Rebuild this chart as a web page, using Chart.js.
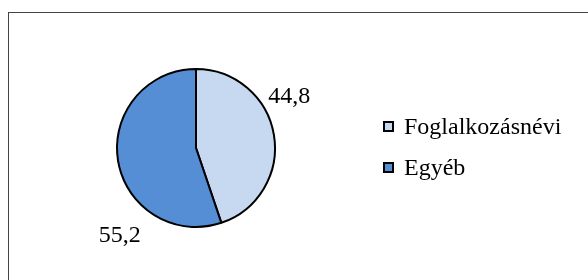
<!DOCTYPE html>
<html><head><meta charset="utf-8">
<script src="https://cdn.jsdelivr.net/npm/chart.js@4.4.1/dist/chart.umd.min.js"></script>
<style>
html,body{margin:0;padding:0;background:#fff;}
#wrap{position:relative;width:588px;height:280px;overflow:hidden;}
#frame{position:absolute;left:8px;top:12px;width:700px;height:400px;border-left:1.5px solid #444;border-top:1.5px solid #444;}
canvas{position:absolute;left:0;top:0;}
#legend{position:absolute;left:383px;top:106px;font-family:"Liberation Serif","Times New Roman",serif;font-size:24px;color:#000;}
.item{display:flex;align-items:center;height:41px;}
.box{width:7px;height:7px;border:2px solid #000;margin-right:10px;}
</style></head>
<body><div id="wrap"><div id="frame"></div><canvas id="c" width="588" height="280"></canvas><div id="legend"></div></div>
<script>
const categories = ["Foglalkozásnévi", "Egyéb"];
const values = [44.8, 55.2];
const valueLabels = ["44,8", "55,2"];
const colors = ["#C6D9F1", "#558ED5"];

const legend = document.getElementById('legend');
categories.forEach((c,i)=>{
  const d=document.createElement('div');d.className='item';
  d.innerHTML='<div class="box" style="background:'+colors[i]+'"></div><span>'+c+'</span>';
  legend.appendChild(d);
});

// label placement: angle (deg from top, clockwise) and distance factor relative to radius
const labelPlace = [{angle:61, dist:1.35},{angle:221, dist:1.47}];

const labelPlugin = {
  id:'pieLabels',
  afterDatasetsDraw(chart){
    const ctx=chart.ctx;
    const meta=chart.getDatasetMeta(0);
    ctx.save();
    ctx.font='24px "Liberation Serif", "Times New Roman", serif';
    ctx.fillStyle='#000';ctx.textAlign='center';ctx.textBaseline='middle';
    meta.data.forEach((arc,i)=>{
      const p=labelPlace[i];
      const a=(p.angle-90)*Math.PI/180;
      const r=arc.outerRadius*p.dist;
      ctx.fillText(valueLabels[i], arc.x+Math.cos(a)*r, arc.y+Math.sin(a)*r);
    });
    ctx.restore();
  }
};

new Chart(document.getElementById('c'),{
  type:'pie',
  data:{labels:categories,datasets:[{data:values,backgroundColor:colors,borderColor:'#000',borderWidth:2}]},
  options:{
    responsive:false,animation:false,
    layout:{padding:{left:116,top:68,right:312,bottom:52}},
    plugins:{legend:{display:false},tooltip:{enabled:false}}
  },
  plugins:[labelPlugin]
});
</script></body></html>
